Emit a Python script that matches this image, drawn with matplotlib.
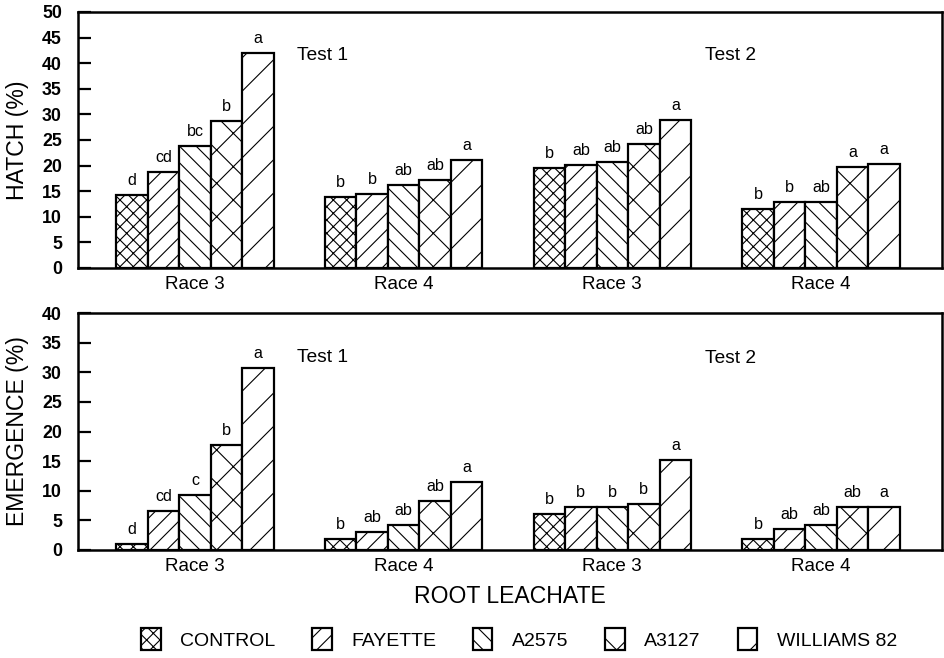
import matplotlib
matplotlib.use("Agg")
import matplotlib.pyplot as plt
import numpy as np

# ---- data ----
groups = ["Race 3", "Race 4", "Race 3", "Race 4"]
cultivars = ["CONTROL", "FAYETTE", "A2575", "A3127", "WILLIAMS 82"]

hatch_control = [14.2, 13.8, 19.6, 11.5]
hatch_fayette = [18.7, 14.4, 20.1, 12.8]
hatch_a2575 = [23.8, 16.3, 20.8, 12.8]
hatch_a3127 = [28.8, 17.1, 24.3, 19.8]
hatch_williams = [42.0, 21.0, 28.9, 20.3]

emerg_control = [1.0, 1.9, 6.0, 1.9]
emerg_fayette = [6.6, 3.0, 7.3, 3.5]
emerg_a2575 = [9.3, 4.2, 7.3, 4.3]
emerg_a3127 = [17.7, 8.2, 7.8, 7.3]
emerg_williams = [30.7, 11.5, 15.2, 7.3]

hatch_letters_control = ["d", "b", "b", "b"]
hatch_letters_fayette = ["cd", "b", "ab", "b"]
hatch_letters_a2575 = ["bc", "ab", "ab", "ab"]
hatch_letters_a3127 = ["b", "ab", "ab", "a"]
hatch_letters_williams = ["a", "a", "a", "a"]

emerg_letters_control = ["d", "b", "b", "b"]
emerg_letters_fayette = ["cd", "ab", "b", "ab"]
emerg_letters_a2575 = ["c", "ab", "b", "ab"]
emerg_letters_a3127 = ["b", "ab", "b", "ab"]
emerg_letters_williams = ["a", "a", "a", "a"]

hatch_yticks = list(range(0, 51, 5))
emerg_yticks = list(range(0, 41, 5))

# ---- style ----
plt.rcParams["font.family"] = ["Liberation Sans", "DejaVu Sans"]
plt.rcParams["hatch.linewidth"] = 0.4
plt.rcParams["hatch.color"] = "black"

hatches = ["xxxxx", "////", "\\\\\\\\", "xx", "//"]

fig = plt.figure(figsize=(4.725, 3.29), dpi=200)
left, right = 78 / 945, 942 / 945
ax1 = fig.add_axes([left, 1 - 268 / 658, right - left, (268 - 12) / 658])
ax2 = fig.add_axes([left, 1 - 550 / 658, right - left, (550 - 313) / 658])

x = np.arange(len(groups))
w = 0.151

panels = [
    (ax1, [hatch_control, hatch_fayette, hatch_a2575, hatch_a3127, hatch_williams],
     [hatch_letters_control, hatch_letters_fayette, hatch_letters_a2575,
      hatch_letters_a3127, hatch_letters_williams],
     hatch_yticks, "HATCH (%)", (41.5, 41.5)),
    (ax2, [emerg_control, emerg_fayette, emerg_a2575, emerg_a3127, emerg_williams],
     [emerg_letters_control, emerg_letters_fayette, emerg_letters_a2575,
      emerg_letters_a3127, emerg_letters_williams],
     emerg_yticks, "EMERGENCE (%)", (32.5, 32.3)),
]

handles = []
for ax, series, letters, yticks, ylabel, testy in panels:
    for i, (vals, labs) in enumerate(zip(series, letters)):
        bars = ax.bar(x + (i - 2) * w, vals, width=w, facecolor="white",
                      edgecolor="black", linewidth=0.8, hatch=hatches[i],
                      label=cultivars[i], zorder=2)
        if ax is ax1:
            handles.append(bars)
        for xi, v, lab in zip(x + (i - 2) * w, vals, labs):
            ax.annotate(lab, (xi, v), xytext=(0, 3.6), textcoords="offset points",
                        ha="center", va="baseline", fontsize=5.8)
    ax.set_xlim(-0.561, 3.58)
    ax.set_ylim(yticks[0], yticks[-1])
    ax.set_yticks(yticks)
    ax.set_yticklabels([str(t) for t in yticks], fontsize=6.4, fontweight="bold")
    ax.set_xticks(x)
    ax.set_xticklabels(groups, fontsize=6.8)
    ax.tick_params(axis="y", direction="in", length=4.7, width=0.8, pad=5.8)
    ax.tick_params(axis="x", length=0, pad=3.0)
    for sp in ax.spines.values():
        sp.set_linewidth(0.9)
    ax.set_ylabel(ylabel, fontsize=8.3, va="center")
    ax.yaxis.set_label_coords(-0.0695, 0.5)
    ax.text(0.61, testy[0], "Test 1", ha="center", va="center", fontsize=6.9)
    ax.text(2.565, testy[1], "Test 2", ha="center", va="center", fontsize=6.9)

ax2.set_xlabel("ROOT LEACHATE", fontsize=8.3, va="center")
ax2.xaxis.set_label_coords(0.5, -0.198)

fig.legend(handles=handles, labels=cultivars, loc="center",
           bbox_to_anchor=(519 / 945, 1 - 639 / 658), ncol=5, frameon=False,
           fontsize=7, handlelength=1.0, handleheight=1.3, handletextpad=1.0,
           columnspacing=1.9, borderaxespad=0)

fig.savefig("out.png", dpi=200)
